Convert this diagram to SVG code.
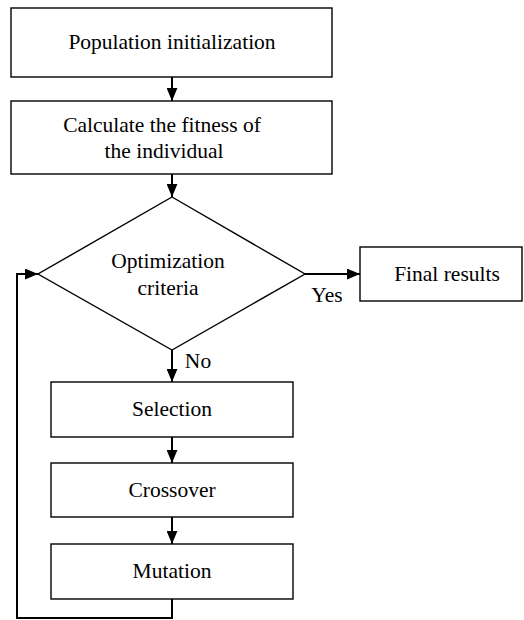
<svg xmlns="http://www.w3.org/2000/svg" width="524" height="620" viewBox="0 0 524 620">
<style>
.n{fill:#fff;stroke:#000;stroke-width:1.4}
.t{font-family:"Liberation Serif","Times New Roman",serif;font-size:21.5px;fill:#000;text-anchor:middle}
.c{fill:none;stroke:#000;stroke-width:2}
</style>
<defs>
<marker id="ah" viewBox="0 0 12 10" refX="12" refY="5" markerWidth="6.5" markerHeight="5.5" orient="auto" markerUnits="strokeWidth">
<path d="M0,0 L12,5 L0,10 Z" fill="#000"/>
</marker>
</defs>
<rect width="524" height="620" fill="#fff"/>
<g id="n1"><rect class="n" x="11" y="8" width="321" height="69"/><text class="t" x="172" y="49">Population initialization</text></g>
<g id="n2"><rect class="n" x="11" y="101" width="321" height="73"/><text class="t" x="162" y="132">Calculate the fitness of</text><text class="t" x="164" y="158">the individual</text></g>
<g id="n3"><polygon class="n" points="172,197 305,274 172,350 38,274"/><text class="t" x="168" y="268">Optimization</text><text class="t" x="168" y="295">criteria</text></g>
<g id="n4"><rect class="n" x="360" y="247" width="162" height="54"/><text class="t" x="447" y="281">Final results</text></g>
<g id="n5"><rect class="n" x="51" y="382" width="242" height="55"/><text class="t" x="172" y="416">Selection</text></g>
<g id="n6"><rect class="n" x="51" y="463" width="242" height="54"/><text class="t" x="172" y="497">Crossover</text></g>
<g id="n7"><rect class="n" x="51" y="544" width="242" height="55"/><text class="t" x="172" y="578">Mutation</text></g>
<g id="connectors">
<line class="c" x1="172" y1="77" x2="172" y2="101" marker-end="url(#ah)"/>
<line class="c" x1="172" y1="174" x2="172" y2="197" marker-end="url(#ah)"/>
<line class="c" x1="305" y1="274" x2="360" y2="274" marker-end="url(#ah)"/>
<line class="c" x1="172" y1="350" x2="172" y2="382" marker-end="url(#ah)"/>
<line class="c" x1="172" y1="437" x2="172" y2="463" marker-end="url(#ah)"/>
<line class="c" x1="172" y1="517" x2="172" y2="544" marker-end="url(#ah)"/>
<polyline class="c" points="172,599 172,618 17,618 17,274 38,274" marker-end="url(#ah)"/>
<text class="t" x="327" y="302">Yes</text>
<text class="t" x="198" y="368">No</text>
</g>
</svg>
